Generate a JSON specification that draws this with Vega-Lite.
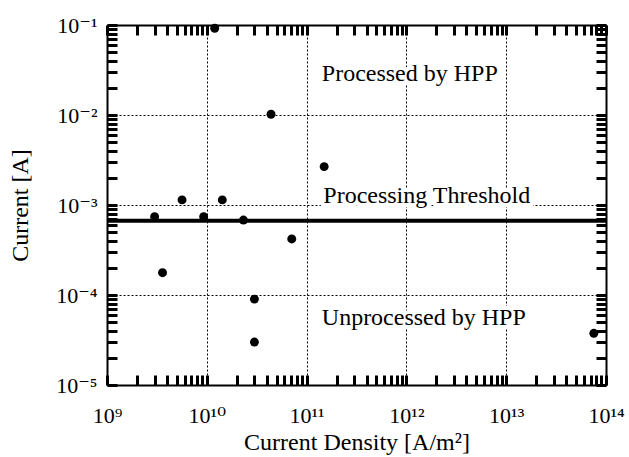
{
  "$schema": "https://vega.github.io/schema/vega-lite/v6.json",
  "width": 499,
  "height": 360,
  "autosize": "none",
  "padding": {"left": 107, "top": 25, "right": 23, "bottom": 72},
  "background": "white",
  "config": {
    "font": "Liberation Serif, Times New Roman, DejaVu Serif, serif",
    "view": {"stroke": null},
    "axis": {
      "domainColor": "black",
      "domainWidth": 2,
      "gridColor": "black",
      "gridWidth": 1,
      "gridDash": [2, 2],
      "labelColor": "black",
      "labelFont": "Liberation Serif, Times New Roman, DejaVu Serif, serif",
      "labelFontSize": 22,
      "titleColor": "black",
      "titleFont": "Liberation Serif, Times New Roman, DejaVu Serif, serif",
      "titleFontSize": 24,
      "titleFontWeight": "normal",
      "labelOverlap": false,
      "labelFlush": false
    }
  },
  "datasets": {
    "points": [
      {"density": 1.2e10, "current": 0.092},
      {"density": 4.4e10, "current": 0.0102},
      {"density": 3.0e9, "current": 0.00074},
      {"density": 5.65e9, "current": 0.00114},
      {"density": 9.3e9, "current": 0.00074},
      {"density": 1.43e10, "current": 0.00114},
      {"density": 2.33e10, "current": 0.00068},
      {"density": 7.1e10, "current": 0.00042},
      {"density": 3.6e9, "current": 0.000177},
      {"density": 3.0e10, "current": 0.00009},
      {"density": 3.0e10, "current": 0.00003},
      {"density": 1.5e11, "current": 0.00267},
      {"density": 7.55e13, "current": 0.0000375}
    ],
    "notes": [
      {"label": "Processed by HPP", "density": 1.42e11, "current": 0.0239},
      {"label": "Processing Threshold", "density": 1.47e11, "current": 0.00105},
      {"label": "Unprocessed by HPP", "density": 1.42e11, "current": 0.0000464}
    ],
    "threshold": [
      {"current": 0.00067}
    ]
  },
  "layer": [
    {
      "data": {"name": "points"},
      "mark": {"type": "point", "filled": true, "size": 80, "opacity": 1, "color": "black", "clip": false},
      "encoding": {
        "x": {
          "field": "density", "type": "quantitative",
          "scale": {"type": "log", "domain": [1e9, 1e14], "nice": false},
          "axis": {
            "orient": "bottom",
            "values": [1e9,1e10,1e11,1e12,1e13,1e14],
            "labelExpr": "datum.value == 1e9 ? '10⁹' : datum.value == 1e10 ? '10¹⁰' : datum.value == 1e11 ? '10¹¹' : datum.value == 1e12 ? '10¹²' : datum.value == 1e13 ? '10¹³' : datum.value == 1e14 ? '10¹⁴' : ''",
            "labelBaseline": "alphabetic",
            "labelPadding": 37,
            "ticks": false,
            "gridOpacity": {"condition": {"test": "indexof([1e10,1e11,1e12,1e13], datum.value) >= 0", "value": 1}, "value": 0},
            "grid": true,
            "title": "Current Density [A/m²]",
            "titleX": 249.5,
            "titleY": 64,
            "titleBaseline": "alphabetic"
          }
        },
        "y": {
          "field": "current", "type": "quantitative",
          "scale": {"type": "log", "domain": [1e-5, 0.1], "nice": false},
          "axis": {
            "orient": "left",
            "values": [1e-5,1e-4,1e-3,1e-2,0.1],
            "labelExpr": "datum.value == 0.1 ? '10⁻¹' : datum.value == 0.01 ? '10⁻²' : datum.value == 0.001 ? '10⁻³' : datum.value == 0.0001 ? '10⁻⁴' : datum.value == 0.00001 ? '10⁻⁵' : ''",
            "labelPadding": 10,
            "ticks": false,
            "gridOpacity": {"condition": {"test": "indexof([1e-4,1e-3,1e-2], datum.value) >= 0", "value": 1}, "value": 0},
            "grid": true,
            "title": "Current [A]",
            "titleX": -80,
            "titleY": 180,
            "titleBaseline": "alphabetic"
          }
        }
      }
    },
    {
      "data": {"name": "threshold"},
      "mark": {"type": "rule", "color": "black", "strokeWidth": 4},
      "encoding": {
        "y": {"field": "current", "type": "quantitative", "scale": {"type": "log", "domain": [1e-5, 0.1], "nice": false}, "axis": null}
      }
    },
    {
      "data": {"name": "notes"},
      "mark": {"type": "text", "align": "left", "baseline": "alphabetic", "font": "Liberation Serif, Times New Roman, DejaVu Serif, serif", "fontSize": 24, "fill": "white", "stroke": "white", "strokeWidth": 8, "strokeJoin": "round"},
      "encoding": {
        "x": {"field": "density", "type": "quantitative", "scale": {"type": "log", "domain": [1e9, 1e14], "nice": false}, "axis": null},
        "y": {"field": "current", "type": "quantitative", "scale": {"type": "log", "domain": [1e-5, 0.1], "nice": false}, "axis": null},
        "text": {"field": "label"}
      }
    },
    {
      "data": {"name": "notes"},
      "mark": {"type": "text", "align": "left", "baseline": "alphabetic", "font": "Liberation Serif, Times New Roman, DejaVu Serif, serif", "fontSize": 24, "color": "black"},
      "encoding": {
        "x": {"field": "density", "type": "quantitative", "scale": {"type": "log", "domain": [1e9, 1e14], "nice": false}, "axis": null},
        "y": {"field": "current", "type": "quantitative", "scale": {"type": "log", "domain": [1e-5, 0.1], "nice": false}, "axis": null},
        "text": {"field": "label"}
      }
    },
    {
      "data": {"name": "points"},
      "mark": {"type": "point", "filled": true, "size": 80, "opacity": 0},
      "encoding": {
        "x": {
          "field": "density", "type": "quantitative",
          "scale": {"type": "log", "domain": [1e9, 1e14], "nice": false},
          "axis": {
            "orient": "top",
            "offset": -360,
            "values": [1e9,2e9,3e9,4e9,5e9,6e9,7e9,8e9,9e9,1e10,2e10,3e10,4e10,5e10,6e10,7e10,8e10,9e10,1e11,2e11,3e11,4e11,5e11,6e11,7e11,8e11,9e11,1e12,2e12,3e12,4e12,5e12,6e12,7e12,8e12,9e12,1e13,2e13,3e13,4e13,5e13,6e13,7e13,8e13,9e13,1e14],
            "labels": false,
            "grid": false,
            "domain": false,
            "ticks": true,
            "tickColor": "black",
            "tickWidth": 3,
            "tickOpacity": 1,
            "title": null,
            "tickSize": 10
          }
        },
        "y": {
          "field": "current", "type": "quantitative",
          "scale": {"type": "log", "domain": [1e-5, 0.1], "nice": false},
          "axis": {
            "orient": "right",
            "offset": -499,
            "values": [1e-5,2e-5,3e-5,4e-5,5e-5,6e-5,7e-5,8e-5,9e-5,1e-4,2e-4,3e-4,4e-4,5e-4,6e-4,7e-4,8e-4,9e-4,1e-3,2e-3,3e-3,4e-3,5e-3,6e-3,7e-3,8e-3,9e-3,1e-2,2e-2,3e-2,4e-2,5e-2,6e-2,7e-2,8e-2,9e-2,0.1],
            "labels": false,
            "grid": false,
            "domain": false,
            "ticks": true,
            "tickColor": "black",
            "tickWidth": 3,
            "tickOpacity": 1,
            "title": null,
            "tickSize": 10
          }
        }
      }
    },
    {
      "data": {"name": "points"},
      "mark": {"type": "point", "filled": true, "size": 80, "opacity": 0},
      "encoding": {
        "x": {
          "field": "density", "type": "quantitative",
          "scale": {"type": "log", "domain": [1e9, 1e14], "nice": false},
          "axis": {
            "orient": "bottom",
            "offset": -360,
            "values": [1e9,2e9,3e9,4e9,5e9,6e9,7e9,8e9,9e9,1e10,2e10,3e10,4e10,5e10,6e10,7e10,8e10,9e10,1e11,2e11,3e11,4e11,5e11,6e11,7e11,8e11,9e11,1e12,2e12,3e12,4e12,5e12,6e12,7e12,8e12,9e12,1e13,2e13,3e13,4e13,5e13,6e13,7e13,8e13,9e13,1e14],
            "labels": false,
            "grid": false,
            "domain": true,
            "ticks": true,
            "title": null,
            "tickSize": 10,
            "tickWidth": 3,
            "tickOpacity": 1,
            "tickColor": "black"
          }
        },
        "y": {
          "field": "current", "type": "quantitative",
          "scale": {"type": "log", "domain": [1e-5, 0.1], "nice": false},
          "axis": {
            "orient": "left",
            "offset": -499,
            "values": [1e-5,2e-5,3e-5,4e-5,5e-5,6e-5,7e-5,8e-5,9e-5,1e-4,2e-4,3e-4,4e-4,5e-4,6e-4,7e-4,8e-4,9e-4,1e-3,2e-3,3e-3,4e-3,5e-3,6e-3,7e-3,8e-3,9e-3,1e-2,2e-2,3e-2,4e-2,5e-2,6e-2,7e-2,8e-2,9e-2,0.1],
            "labels": false,
            "grid": false,
            "domain": true,
            "ticks": true,
            "title": null,
            "tickSize": 10,
            "tickWidth": 3,
            "tickOpacity": 1,
            "tickColor": "black"
          }
        }
      }
    }
  ],
  "resolve": {"axis": {"x": "independent", "y": "independent"}}
}
